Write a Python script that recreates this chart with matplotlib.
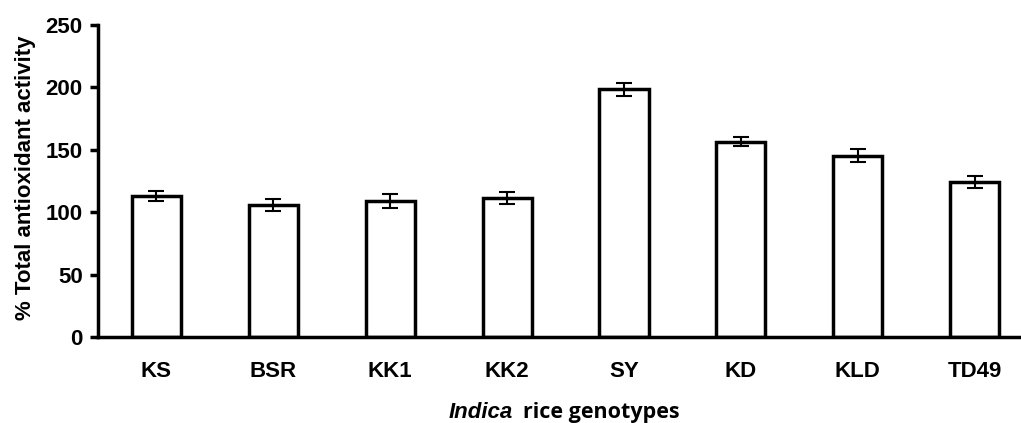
import matplotlib.pyplot as plt

# data
genotypes = ['KS', 'BSR', 'KK1', 'KK2', 'SY', 'KD', 'KLD', 'TD49']
activity = [112.6, 105.6, 108.8, 111.5, 198.5, 156.5, 145.4, 124.0]
err = [4.0, 4.7, 5.6, 5.0, 5.0, 3.5, 4.9, 4.8]
yticks = [0, 50, 100, 150, 200, 250]

plt.rcParams['font.family'] = ['Liberation Sans', 'DejaVu Sans']

fig = plt.figure(figsize=(10.21, 4.23), dpi=100)
ax = fig.add_axes([0.096, 0.2033, 0.9158, 0.7376])

x = range(len(genotypes))
ax.bar(x, activity, width=0.42, color='white', edgecolor='black', linewidth=2.5, zorder=2)
ax.errorbar(x, activity, yerr=err, fmt='none', ecolor='black', elinewidth=1.5,
            capsize=6, capthick=1.5, zorder=3)

ax.set_xlim(-0.5, 7.5)
ax.set_ylim(0, 250)
ax.set_yticks(yticks)
ax.set_xticks(list(x))
ax.set_xticklabels(genotypes, fontsize=16, fontweight='bold')
ax.set_yticklabels([str(v) for v in yticks], fontsize=16, fontweight='bold')
ax.tick_params(axis='x', length=0, pad=17)
ax.tick_params(axis='y', length=6, width=2.5, direction='out', pad=5)

for side in ['top', 'right']:
    ax.spines[side].set_visible(False)
for side in ['left', 'bottom']:
    ax.spines[side].set_linewidth(2.5)
ax.spines['bottom'].set_zorder(4)

ax.set_ylabel('% Total antioxidant activity', fontsize=16, fontweight='bold')
ax.yaxis.set_label_coords(-0.066, 0.51)

# x label: italic "Indica" + "rice genotypes" in a different face
ax.text(0.444, -0.26, 'Indica', transform=ax.transAxes, ha='right', va='baseline',
        fontsize=16, fontweight='bold', fontstyle='italic')
ax.text(0.454, -0.26, 'rice genotypes', transform=ax.transAxes, ha='left', va='baseline',
        fontsize=15.5, fontweight='bold', family=['Open Sans', 'DejaVu Sans'])

fig.savefig('out.png', dpi=100)
